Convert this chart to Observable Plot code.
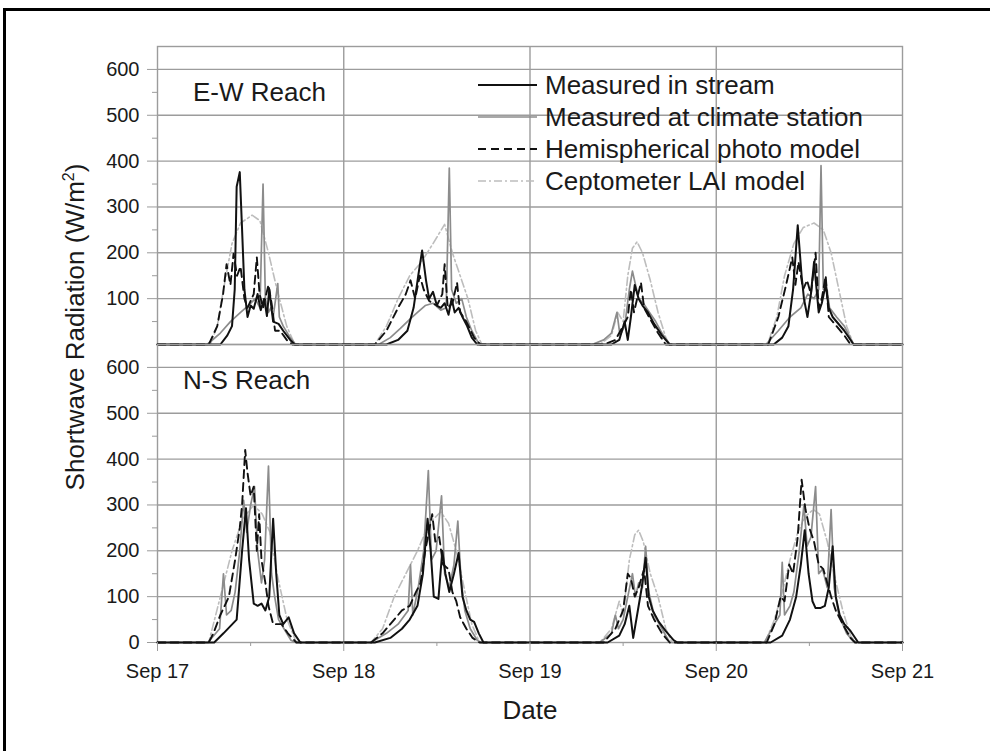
<!DOCTYPE html>
<html><head><meta charset="utf-8">
<script src="https://cdn.jsdelivr.net/npm/d3@7"></script>
<script src="https://cdn.jsdelivr.net/npm/@observablehq/plot@0.6"></script>
<style>
html,body{margin:0;padding:0;background:#fff;overflow:hidden;width:990px;height:751px;}
body{position:relative;font-family:"Liberation Sans",Arial,sans-serif;color:#1a1a1a;}
#frame{position:absolute;left:3px;top:8px;width:1100px;height:900px;border-left:3px solid #000;border-top:3px solid #000;}
.panel{position:absolute;left:0;}
.lbl{position:absolute;font-size:26px;line-height:26px;white-space:nowrap;}
.leg{position:absolute;left:478px;}
</style></head><body>
<div id="frame"></div>
<div id="top" class="panel" style="top:0px"></div>
<div id="bottom" class="panel" style="top:343px"></div>
<script>
// ---- data: [hours since Sep 17 00:00, W/m2] ----
const ewStream = [[0,0],[8.1,0],[9.0,20],[9.6,40],[9.95,120],[10.2,344],[10.6,376],[10.9,250],[11.2,120],[11.6,60],[12.0,85],[12.4,78],[12.9,110],[13.3,75],[13.75,100],[14.1,62],[14.4,120],[14.9,50],[15.6,45],[16.2,30],[17.1,10],[17.7,0],
[29.5,0],[31.0,10],[32.2,30],[33.0,80],[33.6,150],[34.1,205],[34.6,140],[35.0,100],[35.5,115],[36.0,85],[36.5,80],[37.0,90],[37.5,65],[37.9,100],[38.3,70],[38.8,80],[39.3,60],[39.9,40],[40.5,15],[41.2,0],
[58.5,0],[59.5,10],[60.2,50],[60.6,10],[61.0,60],[61.5,130],[62.0,100],[62.5,85],[63.2,70],[64.0,45],[65.0,20],[66.0,0],
[79.4,0],[80.5,15],[81.3,40],[81.9,120],[82.5,260],[83.0,150],[83.3,100],[83.75,60],[84.2,110],[84.6,180],[85.2,70],[85.6,90],[86.1,130],[86.5,80],[87.0,60],[88.5,30],[89.7,0],[96,0]];
const ewClimate = [[0,0],[6.4,0],[8.1,25],[9.4,50],[10.7,70],[11.7,85],[12.6,100],[13.2,80],[13.6,350],[13.9,100],[14.3,70],[14.6,80],[14.9,60],[15.5,133],[15.7,60],[16.2,40],[17.1,15],[17.8,0],
[28.5,0],[30.0,15],[31.3,35],[32.5,55],[33.5,70],[34.5,85],[35.5,90],[36.5,75],[37.2,80],[37.6,385],[37.9,120],[38.5,90],[39.2,100],[39.8,60],[40.5,30],[41.3,5],[41.8,0],
[56.0,0],[57.5,10],[58.5,25],[59.2,70],[59.6,20],[60.2,40],[60.8,120],[61.2,160],[61.6,130],[62.0,100],[62.6,90],[63.4,70],[64.2,50],[65.0,25],[66.0,0],
[78.4,0],[80.0,30],[81.5,60],[82.9,80],[83.8,110],[84.6,100],[85.2,120],[85.5,390],[85.8,120],[86.2,130],[86.6,80],[87.5,60],[88.5,40],[89.7,0],[96,0]];
const ewHemi = [[0,0],[6.6,0],[7.7,40],[8.45,110],[8.9,175],[9.4,130],[9.8,198],[10.25,150],[10.7,170],[11.2,100],[11.6,80],[12.4,110],[12.8,190],[13.15,110],[13.6,80],[14.3,130],[14.7,90],[15.15,30],[15.8,30],[16.65,10],[17.4,0],
[28.0,0],[29.5,30],[31.0,80],[32.0,110],[32.6,140],[33.2,100],[33.8,150],[34.3,120],[35.0,95],[36.0,85],[36.7,110],[37.0,175],[37.4,80],[38.0,90],[38.6,135],[39.0,70],[39.8,50],[40.8,15],[41.6,0],
[57.5,0],[59.0,10],[60.0,40],[60.6,60],[61.0,120],[61.4,70],[61.8,100],[62.3,135],[62.7,80],[63.5,55],[64.5,25],[65.5,0],
[78.7,0],[80.0,60],[81.0,130],[81.8,190],[82.2,130],[82.6,180],[83.2,120],[83.7,140],[84.2,110],[84.8,200],[85.2,80],[85.6,100],[86.1,150],[86.5,60],[87.5,40],[88.5,20],[89.3,0],[96,0]];
const ewCepto = [[0,0],[6.8,0],[7.7,40],[8.5,120],[9.6,220],[10.7,265],[12.2,282],[13.2,270],[14.3,200],[15.4,120],[16.65,40],[17.7,0],
[28.0,0],[29.5,40],[31.0,100],[32.5,150],[34.0,180],[35.5,220],[37.0,262],[38.0,200],[39.0,150],[40.0,100],[41.0,30],[41.8,0],
[57.0,0],[58.5,20],[59.3,70],[60.0,50],[60.6,150],[61.2,210],[61.8,224],[62.5,200],[63.5,140],[64.5,70],[65.5,15],[66.0,0],
[78.6,0],[79.8,60],[80.8,150],[82.0,220],[83.2,255],[84.6,265],[85.8,250],[86.8,200],[87.8,120],[88.8,40],[89.7,0],[96,0]];

const nsStream = [[0,0],[7.3,0],[8.5,20],[10.2,50],[10.9,200],[11.4,293],[11.8,180],[12.4,85],[12.9,80],[13.4,85],[13.9,70],[14.4,100],[14.9,270],[15.3,150],[15.7,60],[16.2,40],[16.9,55],[17.6,20],[18.4,0],
[28.0,0],[30.0,10],[31.5,30],[32.5,50],[33.5,80],[34.2,150],[34.8,270],[35.2,200],[35.6,100],[36.2,95],[36.7,200],[37.1,150],[37.6,110],[38.2,150],[38.8,195],[39.3,100],[39.8,70],[40.3,50],[40.8,45],[41.4,20],[42.0,0],
[58.0,0],[59.5,15],[60.2,40],[60.8,80],[61.3,10],[61.8,60],[62.4,120],[62.9,185],[63.3,100],[63.8,70],[64.6,45],[65.5,25],[66.5,5],[67.0,0],
[79.0,0],[80.5,15],[81.5,50],[82.3,100],[82.9,170],[83.4,245],[83.9,150],[84.4,90],[84.8,75],[85.4,75],[86.0,80],[86.5,120],[87.0,210],[87.4,100],[87.9,60],[88.5,40],[89.3,25],[90.3,0],[96,0]];
const nsClimate = [[0,0],[6.5,0],[8.0,30],[8.5,150],[8.9,60],[9.5,70],[10.0,110],[10.6,200],[11.1,310],[11.5,240],[12.0,300],[12.5,340],[12.9,200],[13.4,130],[13.8,180],[14.3,385],[14.7,150],[15.1,100],[15.6,50],[16.3,30],[17.2,5],[17.8,0],
[27.5,0],[29.5,20],[31.0,40],[32.3,70],[32.6,170],[32.9,60],[33.6,120],[34.3,200],[34.9,375],[35.3,180],[35.9,200],[36.6,320],[37.0,150],[37.6,120],[38.2,170],[38.7,265],[39.1,140],[39.6,70],[40.3,30],[41.2,5],[41.7,0],
[57.0,0],[58.5,20],[59.0,60],[59.4,30],[60.0,50],[60.6,100],[61.2,150],[61.6,100],[62.0,130],[62.5,120],[62.9,210],[63.3,110],[64.0,60],[65.0,30],[66.0,0],
[78.2,0],[79.5,40],[80.2,60],[80.5,175],[80.8,60],[81.5,80],[82.0,110],[82.7,200],[83.3,300],[83.7,210],[84.2,230],[84.8,340],[85.2,150],[85.7,160],[86.3,120],[86.8,290],[87.2,120],[87.8,60],[88.8,20],[89.8,0],[96,0]];
const nsHemi = [[0,0],[6.6,0],[7.2,20],[8.1,60],[9.2,100],[10.0,180],[10.6,250],[10.9,300],[11.3,420],[11.6,370],[12.0,320],[12.4,340],[12.8,200],[13.1,280],[13.4,180],[13.9,130],[14.3,80],[14.9,40],[16.0,40],[16.8,20],[17.9,0],
[27.5,0],[29.0,20],[30.5,50],[31.5,70],[32.5,80],[33.3,110],[33.9,130],[34.5,200],[35.4,280],[35.8,220],[36.3,230],[36.8,170],[37.5,160],[38.0,110],[38.5,90],[39.0,55],[39.8,30],[40.6,10],[41.5,0],
[57.5,0],[59.0,30],[60.0,70],[60.6,150],[61.0,140],[61.5,100],[62.0,120],[62.7,160],[63.2,80],[64.0,50],[65.0,20],[66.0,0],
[78.5,0],[79.5,40],[80.3,100],[80.8,90],[81.4,170],[81.9,150],[82.5,230],[83.0,355],[83.5,290],[84.0,250],[84.6,220],[85.2,170],[85.8,160],[86.3,130],[86.8,100],[87.4,70],[88.3,40],[89.3,10],[89.9,0],[96,0]];
const nsCepto = [[0,0],[6.6,0],[8.1,100],[9.6,200],[11.0,270],[12.4,300],[13.5,280],[14.5,240],[15.4,150],[16.7,50],[17.9,0],
[27.5,0],[29.0,30],[30.5,100],[32.0,150],[33.5,200],[35.0,260],[36.5,285],[37.5,260],[38.5,200],[39.5,120],[40.5,40],[41.5,0],
[57.0,0],[58.5,30],[59.5,90],[60.0,60],[60.8,180],[61.5,235],[62.0,245],[62.6,220],[63.5,150],[64.5,100],[65.5,30],[66.3,0],
[78.3,0],[79.5,50],[80.5,110],[81.5,180],[82.5,240],[83.5,275],[84.5,290],[85.3,280],[86.3,220],[87.3,140],[88.3,70],[89.3,15],[90.0,0],[96,0]];

const seriesNames = ["Measured in stream","Measured at climate station","Hemispherical photo model","Ceptometer LAI model"];
const panelNames = ["E-W Reach","N-S Reach"];
const dayHours = [0,24,48,72,96];
const noonHours = [12,36,60,84];
const yMajorTop = [100,200,300,400,500,600];
const yMajorBottom = [0,100,200,300,400,500,600];
const yMinor = [50,150,250,350,450,550];

// ---- styling ----
const styles = [
  {stroke:"#111", strokeWidth:2, dash:null},
  {stroke:"#8c8c8c", strokeWidth:1.7, dash:null},
  {stroke:"#111", strokeWidth:1.9, dash:"8,5"},
  {stroke:"#bdbdbd", strokeWidth:1.6, dash:"8,3,2,3"}
];
const t0 = Date.UTC(2010, 8, 17);
const toDate = h => new Date(t0 + h * 3600e3);
const rows = arr => arr.map(([h, v]) => ({date: toDate(h), value: v}));
const GRID = "#9c9c9c";
const fontFamily = '"Liberation Sans", Arial, sans-serif';

function panel(seriesArrs, isBottom) {
  const drawOrder = [3,1,2,0];
  const marks = [
    Plot.gridY(yMajorTop, {stroke: GRID, strokeOpacity: 1, strokeWidth: 1.4}),
    Plot.gridX(dayHours.slice(1, -1).map(toDate), {stroke: GRID, strokeOpacity: 1, strokeWidth: 1.4}),
    Plot.frame({stroke: GRID, strokeWidth: 1.4}),
    Plot.axisY(isBottom ? yMajorBottom : yMajorTop, {tickSize: 10, tickPadding: 8, fontSize: 20, stroke: GRID, fill: "#1a1a1a", label: null}),
    Plot.axisY(yMinor, {tickSize: 5, text: null, stroke: GRID, label: null}),
    ...drawOrder.map(i => Plot.line(rows(seriesArrs[i]), {x: "date", y: "value", stroke: styles[i].stroke, strokeWidth: styles[i].strokeWidth, strokeDasharray: styles[i].dash, strokeLinejoin: "round"}))
  ];
  if (isBottom) {
    marks.push(Plot.axisX(dayHours.map(toDate), {tickSize: 9, tickPadding: 12, fontSize: 20, stroke: GRID, fill: "#1a1a1a", tickFormat: d3.utcFormat("%b %d"), label: null}));
    marks.push(Plot.axisX(noonHours.map(toDate), {tickSize: 4, text: null, stroke: GRID, label: null}));
  }
  return Plot.plot({
    width: 990,
    height: isBottom ? 408 : 345,
    marginLeft: 157, marginRight: 88,
    marginTop: isBottom ? 1 : 46,
    marginBottom: isBottom ? 109 : 1,
    style: {background: "transparent", overflow: "visible", fontFamily},
    x: {type: "utc", domain: [toDate(0), toDate(96)], axis: isBottom ? undefined : null, label: null},
    y: {domain: [0, 650], label: null},
    marks
  });
}

document.getElementById("top").appendChild(panel([ewStream, ewClimate, ewHemi, ewCepto], false));
document.getElementById("bottom").appendChild(panel([nsStream, nsClimate, nsHemi, nsCepto], true));

// ---- text labels ----
function addLabel(text, left, top, extra) {
  const d = document.createElement("div");
  d.className = "lbl";
  d.textContent = text;
  d.style.left = left + "px";
  d.style.top = top + "px";
  if (extra) Object.assign(d.style, extra);
  document.body.appendChild(d);
  return d;
}
addLabel(panelNames[0], 193, 79);
addLabel(panelNames[1], 183, 367);
const dateLbl = addLabel("Date", 530, 697, {transform: "translateX(-50%)"});

const yl = document.createElement("div");
yl.className = "lbl";
yl.innerHTML = 'Shortwave Radiation (W/m<sup style="font-size:16px;vertical-align:10px;line-height:0">2</sup>)';
Object.assign(yl.style, {left: "75px", top: "327px", transform: "translate(-50%,-50%) rotate(-90deg)"});
document.body.appendChild(yl);

// ---- legend ----
const legY = [85, 117, 149, 181];
seriesNames.forEach((name, i) => {
  const s = styles[i];
  const ns = "http://www.w3.org/2000/svg";
  const svg = document.createElementNS(ns, "svg");
  svg.setAttribute("width", 62); svg.setAttribute("height", 6);
  svg.style.position = "absolute"; svg.style.left = "476px"; svg.style.top = (legY[i] - 3) + "px";
  const ln = document.createElementNS(ns, "line");
  ln.setAttribute("x1", 2); ln.setAttribute("x2", 61); ln.setAttribute("y1", 3); ln.setAttribute("y2", 3);
  ln.setAttribute("stroke", s.stroke); ln.setAttribute("stroke-width", s.strokeWidth);
  if (s.dash) ln.setAttribute("stroke-dasharray", s.dash);
  svg.appendChild(ln);
  document.body.appendChild(svg);
  addLabel(name, 545, legY[i] - 13);
});
</script>
</body></html>
